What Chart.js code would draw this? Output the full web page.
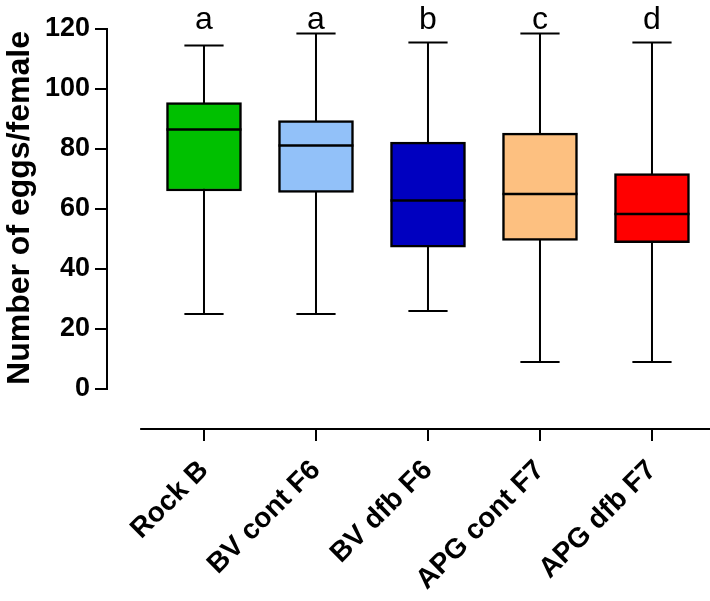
<!DOCTYPE html>
<html>
<head>
<meta charset="utf-8">
<script src="https://cdn.jsdelivr.net/npm/chart.js@4.4.0/dist/chart.umd.min.js"></script>
<style>
  html, body { margin: 0; padding: 0; background: #fff; }
  #wrap { width: 710px; height: 601px; position: relative; }
</style>
</head>
<body>
<div id="wrap"><canvas id="chart"></canvas></div>
<script>
const groups = ['Rock B', 'BV cont F6', 'BV dfb F6', 'APG cont F7', 'APG dfb F7'];
const mins = [25, 25, 26, 9, 9];
const q1s = [66, 65.5, 47.3, 49.5, 48.8];
const medians = [86.5, 81.2, 62.8, 65, 58.3];
const q3s = [95.5, 89.5, 82.3, 85.3, 71.8];
const maxs = [114.5, 118.5, 115.5, 118.5, 115.5];
const letters = ['a', 'a', 'b', 'c', 'd'];
const colors = ['#00c000', '#92c1f9', '#0000c0', '#fdc080', '#ff0000'];
const yTicks = [0, 20, 40, 60, 80, 100, 120];

const FONT = '"Liberation Sans", Arial, sans-serif';

const boxData = groups.map((g, i) => ({ x: i, y: [q1s[i], q3s[i]] }));

const boxPlugin = {
    id: 'boxplot',
    beforeDatasetsDraw(chart) {
        const c = chart.ctx, xs = chart.scales.x, ys = chart.scales.y;
        c.save();
        c.strokeStyle = '#000';
        c.lineWidth = 2;
        for (let i = 0; i < groups.length; i++) {
            const px = xs.getPixelForValue(i);
            const half = (xs.getPixelForValue(0.35) - xs.getPixelForValue(0)) / 2;
            c.beginPath();
            c.moveTo(px, ys.getPixelForValue(mins[i]));
            c.lineTo(px, ys.getPixelForValue(maxs[i]));
            c.moveTo(px - half, ys.getPixelForValue(mins[i]));
            c.lineTo(px + half, ys.getPixelForValue(mins[i]));
            c.moveTo(px - half, ys.getPixelForValue(maxs[i]));
            c.lineTo(px + half, ys.getPixelForValue(maxs[i]));
            c.stroke();
        }
        c.restore();
    },
    afterDatasetsDraw(chart) {
        const c = chart.ctx, xs = chart.scales.x, ys = chart.scales.y;
        const area = chart.chartArea;
        c.save();
        c.strokeStyle = '#000';
        // medians
        c.lineWidth = 2.5;
        for (let i = 0; i < groups.length; i++) {
            const px = xs.getPixelForValue(i);
            const half = (xs.getPixelForValue(0.67) - xs.getPixelForValue(0)) / 2;
            const py = ys.getPixelForValue(medians[i]);
            c.beginPath();
            c.moveTo(px - half, py);
            c.lineTo(px + half, py);
            c.stroke();
        }
        // y axis line, only from 0 to 120
        c.lineWidth = 2;
        c.beginPath();
        c.moveTo(area.left, ys.getPixelForValue(0) + 1);
        c.lineTo(area.left, ys.getPixelForValue(120) - 1);
        c.stroke();
        // x axis line, detached below
        c.beginPath();
        c.moveTo(xs.getPixelForValue(-0.57), area.bottom);
        c.lineTo(area.right, area.bottom);
        c.stroke();
        // significance letters
        c.fillStyle = '#000';
        c.font = '32px ' + FONT;
        c.textAlign = 'center';
        c.textBaseline = 'alphabetic';
        for (let i = 0; i < groups.length; i++) {
            c.fillText(letters[i], xs.getPixelForValue(i), 29);
        }
        // y axis title
        c.font = 'bold 32px ' + FONT;
        c.translate(29, 208);
        c.rotate(-Math.PI / 2);
        c.fillText('Number of eggs/female', 0, 0);
        c.restore();
    }
};

new Chart(document.getElementById('chart'), {
    type: 'bar',
    data: {
        datasets: [{
            data: boxData,
            backgroundColor: colors,
            borderColor: '#000',
            borderWidth: 2.5,
            borderSkipped: false,
            barThickness: 75
        }]
    },
    options: {
        responsive: true,
        maintainAspectRatio: false,
        animation: false,
        layout: { padding: { top: 29, right: 0, left: 0, bottom: 0 } },
        plugins: { legend: { display: false }, tooltip: { enabled: false } },
        scales: {
            x: {
                type: 'linear',
                min: -0.866,
                max: 4.518,
                offset: false,
                afterFit: (s) => { s.height = 172; },
                afterBuildTicks: (s) => { s.ticks = groups.map((g, i) => ({ value: i })); },
                border: { display: false },
                grid: { offset: false, drawOnChartArea: false, drawTicks: true, tickLength: 12, tickColor: '#000', lineWidth: 2 },
                ticks: {
                    color: '#000',
                    font: { family: FONT, size: 28, weight: 'bold' },
                    minRotation: 45,
                    maxRotation: 45,
                    padding: 13,
                    callback: (v) => groups[v]
                }
            },
            y: {
                min: -13.33,
                max: 120,
                afterFit: (s) => { s.width = 107; },
                afterBuildTicks: (s) => { s.ticks = yTicks.map(v => ({ value: v })); },
                border: { display: false },
                grid: { drawOnChartArea: false, drawTicks: true, tickLength: 12, tickColor: '#000', lineWidth: 2 },
                ticks: {
                    color: '#000',
                    font: { family: FONT, size: 27, weight: 'bold' },
                    padding: 5
                }
            }
        }
    },
    plugins: [boxPlugin]
});
</script>
</body>
</html>
